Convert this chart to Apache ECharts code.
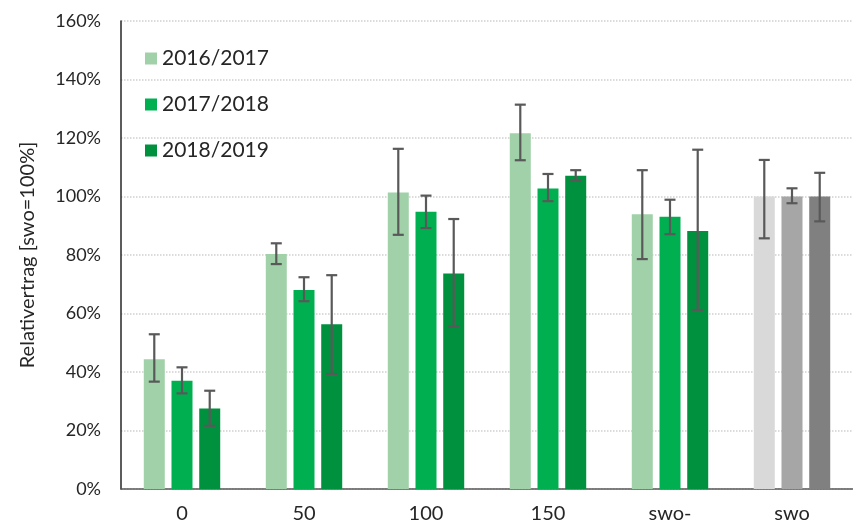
<!DOCTYPE html>
<html>
<head>
<meta charset="utf-8">
<script src="https://cdn.jsdelivr.net/npm/echarts@6/dist/echarts.min.js"></script>
<style>
html, body { margin: 0; padding: 0; background: #fff; }
#chart { width: 853px; height: 527px; }
</style>
</head>
<body>
<div id="chart"></div>
<script>
var chart = echarts.init(document.getElementById('chart'));

var categories = ['0', '50', '100', '150', 'swo-', 'swo'];
var seriesNames = ['2016/2017', '2017/2018', '2018/2019'];

// mean values in % (swo = 100%)
var val1 = [44.4, 80.3, 101.4, 121.6, 93.9, 100];
var val2 = [37.0, 68.0, 94.8, 102.7, 93.1, 100];
var val3 = [27.5, 56.3, 73.7, 107.1, 88.2, 100];

// error bar ends
var hi1 = [52.9, 84.0, 116.3, 131.4, 109.0, 112.5];
var lo1 = [36.7, 76.9, 86.9, 112.4, 78.6, 85.7];
var hi2 = [41.6, 72.4, 100.3, 107.7, 98.9, 102.8];
var lo2 = [32.7, 64.2, 89.2, 98.4, 87.1, 97.7];
var hi3 = [33.6, 73.1, 92.3, 109.0, 116.0, 108.1];
var lo3 = [21.6, 39.3, 55.5, 105.4, 61.2, 91.5];

var greens = ['#a0d1a9', '#00b050', '#00913f'];
var greys = ['#d9d9d9', '#a6a6a6', '#808080'];

var font = 'Lato, "Open Sans", sans-serif';
var barW = 21;
var gapPct = 0.32;

function barData(vals, k) {
    return vals.map(function (v, i) {
        if (categories[i] === 'swo') {
            return { value: v, itemStyle: { color: greys[k] } };
        }
        return v;
    });
}

function errData(lo, hi) {
    return lo.map(function (l, i) { return [i, l, hi[i]]; });
}

function errSeries(lo, hi, k) {
    var offset = (k - 1) * barW * (1 + gapPct);
    return {
        type: 'custom',
        z: 10,
        silent: true,
        data: errData(lo, hi),
        encode: { x: 0, y: [1, 2] },
        renderItem: function (params, api) {
            var x = api.coord([api.value(0), 0])[0] + offset;
            var yLo = api.coord([api.value(0), api.value(1)])[1];
            var yHi = api.coord([api.value(0), api.value(2)])[1];
            var st = { stroke: '#595959', lineWidth: 2.2 };
            return {
                type: 'group',
                children: [
                    { type: 'line', shape: { x1: x, y1: yLo, x2: x, y2: yHi }, style: st },
                    { type: 'line', shape: { x1: x - 5.5, y1: yLo, x2: x + 5.5, y2: yLo }, style: st },
                    { type: 'line', shape: { x1: x - 5.5, y1: yHi, x2: x + 5.5, y2: yHi }, style: st }
                ]
            };
        }
    };
}

var option = {
    animation: false,
    textStyle: { fontFamily: font },
    grid: { left: 121, right: -11, top: 21, bottom: 38 },
    legend: {
        orient: 'vertical',
        left: 140,
        top: 43,
        itemWidth: 12,
        itemHeight: 12,
        itemGap: 25,
        icon: 'rect',
        data: seriesNames,
        textStyle: { fontSize: 21, color: '#262626', fontFamily: font }
    },
    xAxis: {
        type: 'category',
        data: categories,
        axisTick: { show: false },
        axisLine: { lineStyle: { color: '#595959', width: 1.5 } },
        axisLabel: { fontSize: 20, color: '#262626', margin: 15 }
    },
    yAxis: {
        type: 'value',
        min: 0,
        max: 160,
        interval: 20,
        name: 'Relativertrag [swo=100%]',
        nameLocation: 'middle',
        nameGap: 83,
        nameTextStyle: { fontSize: 20, color: '#262626' },
        axisLine: { show: true, lineStyle: { color: '#262626', width: 1.5 } },
        axisTick: { show: false },
        axisLabel: { formatter: '{value}%', fontSize: 18, color: '#262626', margin: 20 },
        splitLine: { lineStyle: { color: '#d0d0d0', type: 'dotted', width: 1.5 } }
    },
    series: [
        { name: seriesNames[0], type: 'bar', barWidth: barW, barGap: (gapPct * 100) + '%', itemStyle: { color: greens[0] }, data: barData(val1, 0) },
        { name: seriesNames[1], type: 'bar', barWidth: barW, barGap: (gapPct * 100) + '%', itemStyle: { color: greens[1] }, data: barData(val2, 1) },
        { name: seriesNames[2], type: 'bar', barWidth: barW, barGap: (gapPct * 100) + '%', itemStyle: { color: greens[2] }, data: barData(val3, 2) },
        errSeries(lo1, hi1, 0),
        errSeries(lo2, hi2, 1),
        errSeries(lo3, hi3, 2)
    ]
};

chart.setOption(option);
window.onresize = chart.resize;
</script>
</body>
</html>
